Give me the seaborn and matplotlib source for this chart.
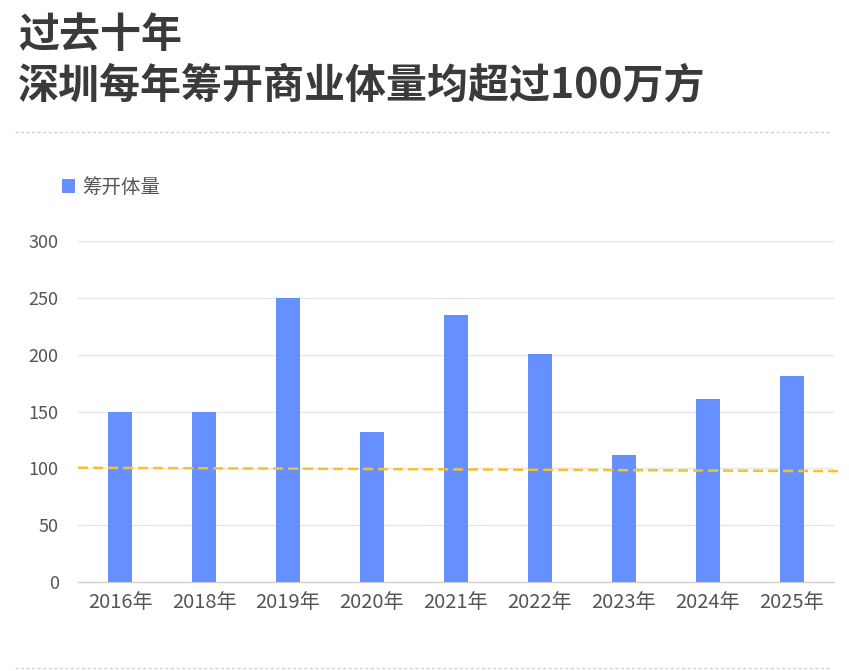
import numpy as np
import pandas as pd
import matplotlib.pyplot as plt
import seaborn as sns

years = ["2016年", "2018年", "2019年", "2020年", "2021年", "2022年", "2023年", "2024年", "2025年"]
volume = [150, 150, 250, 132, 235, 201, 112, 161, 181]
ref_line = [100.6, 97.6]
y_ticks = [0, 50, 100, 150, 200, 250, 300]

title_lines = ["过去十年", "深圳每年筹开商业体量均超过100万方"]
series_name = "筹开体量"

bar_color = "#6690ff"
ref_color = "#f4c12f"

sns.set_style("white")
plt.rcParams['font.family'] = ['Noto Sans CJK SC', 'DejaVu Sans']

df = pd.DataFrame({"year": years, "volume": volume})

fig = plt.figure(figsize=(8.49, 6.71), dpi=100)
ax = fig.add_axes([0.092, 0.1326, 0.890, 0.508])

sns.barplot(data=df, x="year", y="volume", color=bar_color, width=0.29,
            saturation=1, ax=ax, label=series_name, zorder=3, linewidth=0)
if ax.get_legend() is not None:
    ax.get_legend().remove()

ax.set_ylim(0, 300)
ax.set_xlim(-0.5, len(years) - 0.5)
ax.set_yticks(y_ticks)
ax.yaxis.grid(True, color="#e6e6e6", linewidth=1, zorder=0)
ax.set_xlabel("")
ax.set_ylabel("")
ax.tick_params(axis="y", length=0, labelsize=13, labelcolor="#555555", pad=14)
ax.tick_params(axis="x", length=0, labelsize=14.5, labelcolor="#555555", pad=7)
for side in ["top", "right", "left"]:
    ax.spines[side].set_visible(False)
ax.spines["bottom"].set_color("#d0d0d0")
ax.spines["bottom"].set_linewidth(1)

# dashed 100 reference line
ax.plot([-0.5, len(years) - 0.45], ref_line, color=ref_color, linestyle=(0, (4, 2)),
        linewidth=1.8, zorder=4, clip_on=False)

# legend
handles, labels = ax.get_legend_handles_labels()
fig.legend(handles[:1], labels[:1], loc="upper left", bbox_to_anchor=(0.052, 0.763),
           frameon=False, fontsize=14, handlelength=0.7, handleheight=0.7,
           handletextpad=0.35, labelcolor="#555555")

# titles
fig.text(0.021, 0.948, title_lines[0], fontsize=29.5, fontweight="bold", color="#3a3a3a", va="center")
fig.text(0.021, 0.872, title_lines[1], fontsize=29.5, fontweight="bold", color="#3a3a3a", va="center")

# dashed separators
for yy in [0.804, 0.004]:
    fig.add_artist(plt.Line2D([0.018, 0.978], [yy, yy], color="#cfcfcf",
                              linestyle=(0, (2, 2)), linewidth=1))

fig.savefig("out.png", dpi=100, facecolor="white")
